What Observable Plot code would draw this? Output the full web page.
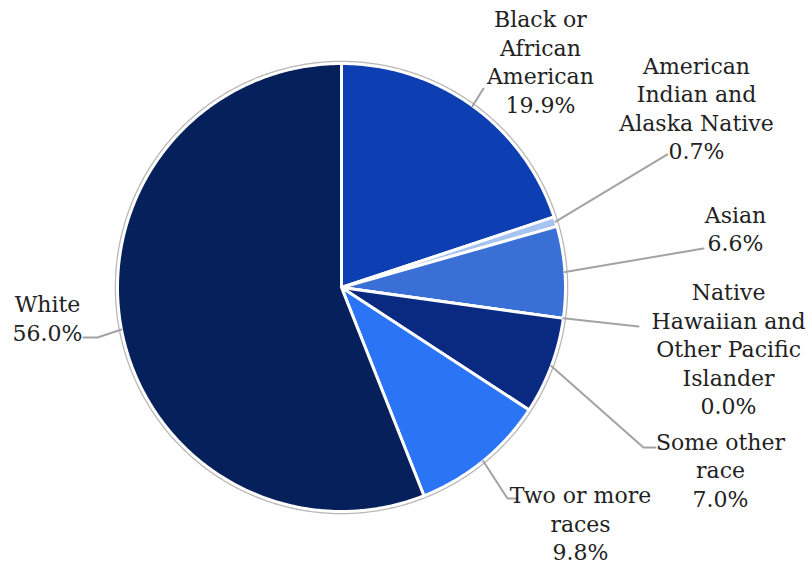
<!DOCTYPE html>
<html>
<head>
<meta charset="utf-8">
<script src="https://cdn.jsdelivr.net/npm/d3@7"></script>
<script src="https://cdn.jsdelivr.net/npm/@observablehq/plot@0.6"></script>
<style>
  html, body { margin: 0; padding: 0; background: #fff; }
  #chart svg { display: block; }
</style>
</head>
<body>
<div id="chart"></div>
<script>
// ---- data ----
const categories = [
  "Black or African American",
  "American Indian and Alaska Native",
  "Asian",
  "Native Hawaiian and Other Pacific Islander",
  "Some other race",
  "Two or more races",
  "White"
];
const shares = [19.9, 0.7, 6.6, 0.0, 7.0, 9.8, 56.0];
const labelLines = [
  ["Black or", "African", "American"],
  ["American", "Indian and", "Alaska Native"],
  ["Asian"],
  ["Native", "Hawaiian and", "Other Pacific", "Islander"],
  ["Some other", "race"],
  ["Two or more", "races"],
  ["White"]
];
const colors = ["#0d3fb3", "#a6c3f2", "#3a6fd6", "#1a4fd0", "#0a2a82", "#2b74f6", "#06205c"];

// ---- layout (unit-circle coordinates, y up) ----
const labelPos = [
  [0.888, 1.011], [1.585, 0.804], [1.759, 0.266], [1.728, -0.270],
  [1.692, -0.810], [1.067, -1.050], [-1.3125, -0.132]
];
const leaderBends = [
  [[0.634, 0.888]],
  [[1.455, 0.594]],
  [[1.616, 0.174]],
  [[1.326, -0.174]],
  [[1.348, -0.714], [1.402, -0.714]],
  [[0.741, -0.942], [0.786, -0.942]],
  [[-1.089, -0.223], [-1.152, -0.223]]
];

// ---- derived geometry ----
const total = d3.sum(shares);
let cum = 0;
const slices = categories.map((c, i) => {
  const a0 = cum / total * 2 * Math.PI;
  cum += shares[i];
  const a1 = cum / total * 2 * Math.PI;
  return {cat: c, a0, a1, mid: (a0 + a1) / 2, i};
});
const pt = (a, r) => ({x: r * Math.sin(a), y: r * Math.cos(a)});

const slicePts = [];
for (const s of slices) {
  slicePts.push({cat: s.cat, x: 0, y: 0});
  const n = Math.max(2, Math.ceil((s.a1 - s.a0) / (Math.PI / 360)));
  for (let k = 0; k <= n; k++) {
    const p = pt(s.a0 + (s.a1 - s.a0) * k / n, 1);
    slicePts.push({cat: s.cat, ...p});
  }
  slicePts.push({cat: s.cat, x: 0, y: 0});
}

const rim = d3.range(0, 721).map(k => pt(k / 720 * 2 * Math.PI, 1.008));

const leaders = [];
slices.forEach((s, i) => {
  const p = pt(s.mid, 1.0);
  leaders.push({id: i, ...p});
  for (const [x, y] of leaderBends[i]) leaders.push({id: i, x, y});
});

const labels = slices.map((s, i) => ({
  text: [...labelLines[i], shares[i].toFixed(1) + "%"].join("\n"),
  x: labelPos[i][0], y: labelPos[i][1]
}));

const chart = Plot.plot({
  width: 812,
  height: 567,
  margin: 0,
  style: {background: "#fff"},
  x: {domain: [-1, 1], range: [117, 565], axis: null},
  y: {domain: [-1, 1], range: [511, 63], axis: null},
  color: {domain: categories, range: colors},
  marks: [
    Plot.line(rim, {x: "x", y: "y", stroke: "#b8b8b8", strokeWidth: 2}),
    Plot.line(slicePts, {x: "x", y: "y", z: "cat", fill: "cat", stroke: "white", strokeWidth: 3, strokeLinejoin: "round"}),
    Plot.line(leaders, {x: "x", y: "y", z: "id", stroke: "#a3a3a3", strokeWidth: 2}),
    Plot.text(labels, {
      x: "x", y: "y", text: "text",
      textAnchor: "middle", lineAnchor: "middle",
      lineHeight: 1.3,
      fontFamily: "'DejaVu Serif', serif", fontSize: 22, fill: "#222"
    })
  ]
});
document.getElementById("chart").append(chart);
</script>
</body>
</html>
